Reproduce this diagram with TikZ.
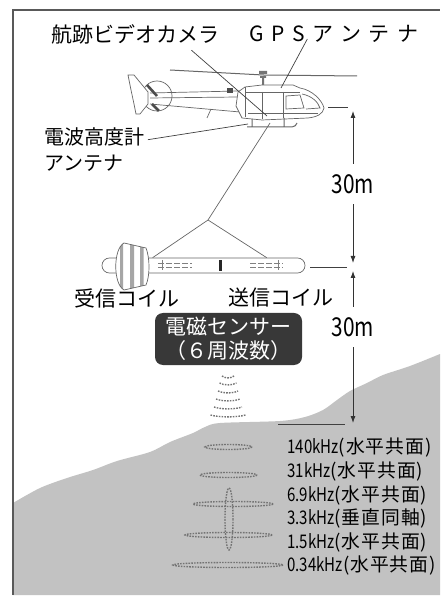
\documentclass[tikz,border=0pt]{standalone}
\usepackage{fontspec}
\setmainfont{Noto Sans CJK JP}
\newfontfamily\narrowfont[FakeStretch=0.8]{Noto Sans CJK JP}
\usetikzlibrary{arrows.meta,calc}
\newcommand{\nar}[1]{{\narrowfont #1}}
\newcommand{\mode}[1]{{\addfontfeature{LetterSpace=5}(#1)}}

\begin{document}
\begin{tikzpicture}[x=0.5pt,y=-0.5pt,
  lbl/.style={inner sep=0pt,font=\fontsize{10.5}{13}\selectfont},
  freq/.style={anchor=west,inner sep=0pt,font=\fontsize{9.4}{11}\selectfont},
  dist/.style={inner sep=0pt,inner ysep=5pt,fill=white,font=\fontsize{13}{15}\selectfont},
  lead/.style={black!75,line width=0.35pt},
  dim/.style={black!80,line width=0.4pt,-{Latex[length=3.5pt,width=2.5pt]}},
  heli/.style={black!60,line width=0.35pt},
  wave/.style={black!55,line width=0.7pt,dash pattern=on 0.8pt off 0.6pt}]
\useasboundingbox (0,0) rectangle (440,597);

% ground and frame
\fill[black!24] plot[smooth] coordinates {(13,503) (40,488) (67,478) (93,470) (117,461) (150,452) (170,442) (193,433) (205,427) (220,423) (280,421) (305,417) (323,410) (337,400) (350,391) (367,383) (383,375) (410,366) (440,354)} -- (440,595) -- (13,595) -- cycle;
\draw[black!65,line width=1pt] (13,595) -- (13,10.5) -- (440,10.5);

% helicopter
\draw[heli,line width=0.5pt] (170,70) -- (263,75) -- (357,76);
\draw[heli] (150,93) -- (238,91) (150,98) -- (238,97) (150,104) -- (240,112);
\draw[heli] (207,118) -- (211,109);
\draw[heli] (157,96) circle[radius=15];
\draw[heli,fill=white] (128,75) -- (134,75) -- (148,92) -- (148,104) -- (140,114) -- (136,114) -- (134,104) -- (131,90) -- cycle;
\draw[black!70,line width=1.3pt] (147,85) -- (157,96) (152,104) -- (159,111);
\draw[heli,fill=white] (236,106) -- (238,92) -- (245,87) -- (262,85) -- (293,85) -- (300,88) .. controls (312,90) and (322,100) .. (324,108) .. controls (323,114) and (317,117) .. (308,118) -- (262,120) -- (242,118) -- cycle;
\draw[heli] (245,87) -- (245,117) (246,92) -- (300,92) (262,92) -- (262,119) (283,92) -- (283,118) (248,113) -- (318,113);
\draw[heli] (286,96) -- (300,95) -- (304,108) -- (286,109) -- cycle;
\draw[heli] (302,94) .. controls (312,96) and (318,102) .. (320,108) -- (306,109);
\fill[black!55] (259,71) rectangle (267,74) (260,76) rectangle (266,78) (262,78) rectangle (264,85);
\draw[heli,line width=0.5pt] (252,119) -- (252,127) (284,118) -- (284,127) (247,127) -- (292,127) .. controls (295,127) and (296,125) .. (297,123);
\fill[black!70] (227,88) rectangle (233,93);

\coordinate (cam) at (267,116);
\coordinate (gps) at (281,88);
\coordinate (alt) at (248,124);
\coordinate (hook) at (270,123);
\coordinate (bridle) at (208,220);

% labels round the helicopter
\node[lbl] (camlabel) at (135,34) {航跡ビデオカメラ};
\node[lbl] (gpslabel) at (334,34) {\addfontfeature{LetterSpace=36}GPSアンテナ};
\node[lbl,font=\fontsize{10}{13}\selectfont,anchor=west,align=left] (altlabel) at (44,150) {電波高度計\\アンテナ};
\draw[lead] ($(camlabel.south east)+(-28,6)$) -- (cam);
\draw[lead] ($(gpslabel.south west)+(58,-4)$) -- (gps);
\draw[lead] ($(altlabel.north east)+(3,12)$) -- (alt);

% towed bird
\node[draw=black!60,line width=0.35pt,fill=white,rounded corners=3.7pt,minimum width=101.5pt,minimum height=7.5pt,inner sep=0pt] (bird) at (203.5,265.5) {};
\draw[heli] (hook) -- (bridle) -- ($(bird.north west)+(51,0)$) (bridle) -- ($(bird.north west)+(165,0)$);
\draw[black!50,line width=0.3pt] (162,260) -- (162,270) (278,260) -- (278,270);
\draw[black!50,line width=0.3pt,dash pattern=on 3pt off 1pt] (158,263) -- (192,263) (158,267) -- (192,267) (250,263) -- (283,263) (250,267) -- (283,267);
\fill[black!85] (219,260) rectangle (221.5,271);
\path[heli,draw,fill=white,path picture={\fill[black!35] (120,230) rectangle (123,300) (130,230) rectangle (134,300) (140,230) rectangle (143.5,300);}]
  (124,243) -- (146,248) .. controls (150,258) and (150,276) .. (146,285) -- (124,290) .. controls (113,284) and (113,249) .. (124,243) -- cycle;

\node[lbl] (rxlabel) at (127,298) {受信コイル};
\node[lbl] (txlabel) at (281,298) {送信コイル};
\node[lbl,fill=black!78,text=white,rounded corners=4pt,minimum width=73.5pt,minimum height=26pt,align=center,font=\fontsize{10.5}{12}\selectfont] (sensor) at (228.5,339) {電磁センサー\\（６周波数）};

% heights
\coordinate (top1) at (353,111);
\coordinate (bot1) at (353,263);
\coordinate (top2) at (353,271);
\coordinate (bot2) at (353,423);
\node[dist] (upper) at (353,184) {\nar{30m}};
\node[dist] (lower) at (353,327) {\nar{30m}};
\draw[dim] (upper) -- (top1);
\draw[dim] (upper) -- (bot1);
\draw[dim] (lower) -- (top2);
\draw[dim] (lower) -- (bot2);
\draw[lead] (328,107) -- (348,107);
\draw[lead] (310,267) -- (347,267);
\draw[lead] (278,424) -- (345,424);

% field below the sensor
\foreach \y/\w in {376/6,383/8.5,391/10,399/12,407/14,415/17.5}
  \draw[wave] (228-\w,\y) .. controls (228-\w/2,\y+2.5) and (228+\w/2,\y+2.5) .. (228+\w,\y);
\foreach \x/\y/\r in {228.5/447/23.5,228.5/475/28.5,233/504/40,228.5/535/43.5,228/565/55}
  \draw[wave] (\x,\y) ellipse[x radius=\r,y radius=2.5];
\draw[wave] (229,519) ellipse[x radius=4,y radius=31];

\foreach \i/\y/\f/\t in {1/447/140kHz/水平共面,2/471/31kHz/水平共面,3/495/6.9kHz/水平共面,4/518/3.3kHz/垂直同軸,5/542/1.5kHz/水平共面,6/565/0.34kHz/水平共面}
  \node[freq] (f\i) at (287,\y) {\nar{\f}\mode{\t}};
\end{tikzpicture}
\end{document}
